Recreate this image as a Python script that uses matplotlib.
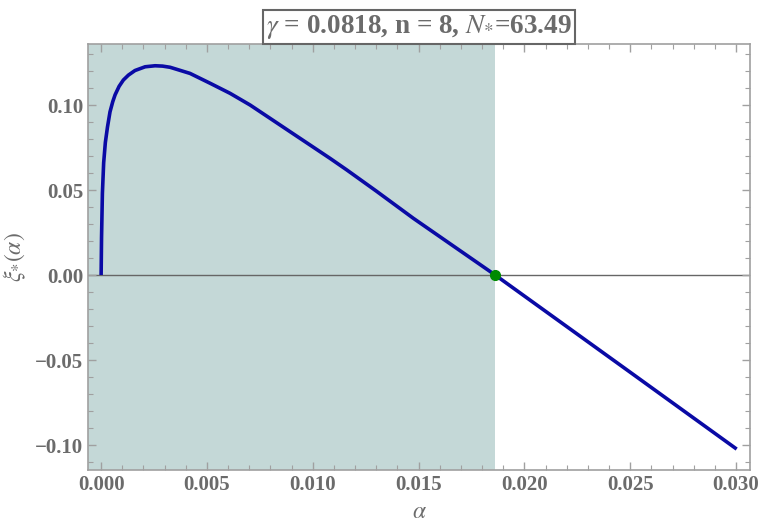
import matplotlib
matplotlib.use("Agg")
import matplotlib.pyplot as plt
from matplotlib.ticker import MultipleLocator

plt.rcParams['font.family'] = ['Liberation Serif', 'DejaVu Serif']
plt.rcParams['mathtext.fontset'] = 'stix'

# Data
alpha_vals = [0.0, 0.00002, 0.00006, 0.00012, 0.00020, 0.00030, 0.00042, 0.00055,
              0.00066, 0.00085, 0.00105, 0.00129, 0.00160, 0.00208, 0.00255,
              0.00290, 0.00326, 0.00420, 0.00515, 0.00609, 0.00704, 0.00798,
              0.00893, 0.00987, 0.01082, 0.01161, 0.01300, 0.01476, 0.01862,
              0.02500, 0.03003]
xi_vals = [0.0, 0.022, 0.048, 0.066, 0.078, 0.087, 0.096, 0.102,
           0.106, 0.111, 0.1147, 0.1176, 0.1203, 0.1225, 0.1231,
           0.1229, 0.1222, 0.1186, 0.1128, 0.1069, 0.1000, 0.0922,
           0.0843, 0.0765, 0.0686, 0.0618, 0.0494, 0.0333, 0.0,
           -0.0572, -0.1024]
alpha_star = 0.01862
title_text = r"$\gamma$ = 0.0818, n = 8, $N_{*}$=63.49"
xlabel_text = r"$\alpha$"
ylabel_text = r"$\xi_{*}(\alpha)$"

grey = '#6b6b6b'
frame = '#a0a0a0'

fig = plt.figure(figsize=(7.62, 5.27), dpi=100)
ax = fig.add_axes([88/762, 57/527, 662/762, 426/527])

ax.set_xlim(-0.00062, 0.03066)
ax.set_ylim(-0.1147, 0.1359)

ax.axvspan(ax.get_xlim()[0], alpha_star, color='#c4d8d7', zorder=0, lw=0)
ax.axhline(0, color='#666666', lw=1.0, zorder=1)
ax.plot(alpha_vals, xi_vals, color='#0a0aa5', lw=2.6, zorder=3,
        solid_capstyle='butt', solid_joinstyle='round')
ax.plot([alpha_star], [0], 'o', color='#008a00', ms=7, zorder=4)

ax.xaxis.set_major_locator(MultipleLocator(0.005))
ax.xaxis.set_minor_locator(MultipleLocator(0.001))
ax.yaxis.set_major_locator(MultipleLocator(0.05))
ax.yaxis.set_minor_locator(MultipleLocator(0.01))
ax.xaxis.set_major_formatter(matplotlib.ticker.FormatStrFormatter('%.3f'))
ax.yaxis.set_major_formatter(matplotlib.ticker.FuncFormatter(
    lambda v, p: ('\u2212' if v < -1e-12 else '') + '%.2f' % abs(v)))

ax.tick_params(which='both', direction='in', top=True, right=True, color=frame,
               labelcolor=grey, labelsize=15)
ax.tick_params(which='major', length=6, width=1)
ax.tick_params(which='minor', length=3.5, width=0.8)
for lab in ax.get_xticklabels() + ax.get_yticklabels():
    lab.set_fontweight('bold')
for s in ax.spines.values():
    s.set_color(frame)
    s.set_linewidth(1.2)

ax.set_xlabel(xlabel_text, fontsize=17, color=grey, labelpad=5)
ax.set_ylabel(ylabel_text, fontsize=17, color=grey, labelpad=5)

ax.set_title(title_text, fontsize=19.5, fontweight='bold', color=grey, pad=8,
             bbox=dict(boxstyle='square,pad=0.12', fc='white', ec='#666666', lw=1.5))

fig.savefig('out.png', dpi=100)
